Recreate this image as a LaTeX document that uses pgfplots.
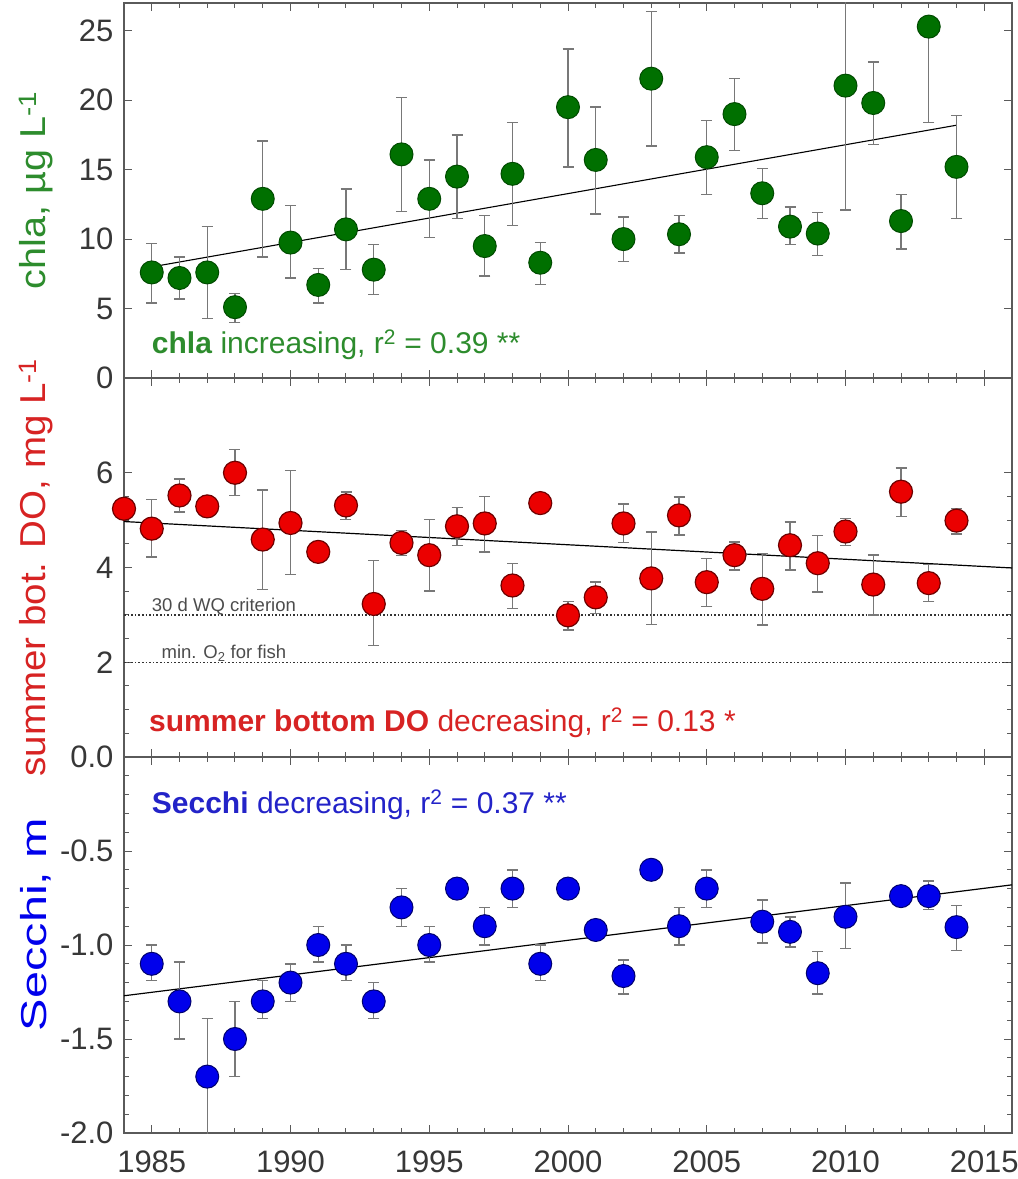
\documentclass[border=0pt]{standalone}
\usepackage{fontspec}
\setmainfont{Liberation Sans}
\usepackage{pgfplots}
\usepackage{pgfplotstable}
\pgfplotsset{compat=1.18}

\definecolor{cgreen}{RGB}{0,112,0}
\definecolor{cgreenEdge}{RGB}{0,75,0}
\definecolor{tgreen}{RGB}{45,140,45}
\definecolor{cred}{RGB}{235,0,0}
\definecolor{credEdge}{RGB}{110,0,0}
\definecolor{tred}{RGB}{215,35,35}
\definecolor{cblue}{RGB}{0,0,235}
\definecolor{cblueEdge}{RGB}{0,0,110}
\definecolor{tblue}{RGB}{35,35,200}
\definecolor{axgray}{RGB}{90,90,90}
\definecolor{errgray}{RGB}{120,120,120}
\definecolor{lblgray}{RGB}{55,55,55}

\pgfplotstableread{
x y hi lo
1985 7.6 9.7 5.4
1986 7.2 8.7 5.7
1987 7.6 10.9 4.3
1988 5.1 6.1 4.0
1989 12.9 17.05 8.7
1990 9.75 12.4 7.2
1991 6.7 7.9 5.4
1992 10.7 13.6 7.8
1993 7.8 9.6 6.0
1994 16.1 20.2 12.0
1995 12.9 15.7 10.1
1996 14.5 17.5 11.5
1997 9.5 11.7 7.35
1998 14.7 18.4 11.0
1999 8.3 9.75 6.75
2000 19.5 23.7 15.2
2001 15.7 19.5 11.8
2002 10.0 11.6 8.4
2003 21.55 26.4 16.7
2004 10.35 11.7 9.0
2005 15.9 18.55 13.2
2006 19.0 21.55 16.4
2007 13.3 15.1 11.5
2008 10.9 12.3 9.6
2009 10.4 11.9 8.8
2010 21.05 30 12.1
2011 19.8 22.75 16.8
2012 11.3 13.2 9.3
2013 25.3 25.3 18.4
2014 15.2 18.9 11.5
}\chla

\pgfplotstableread{
x y hi lo
1984 5.24 5.24 5.24
1985 4.82 5.43 4.22
1986 5.52 5.87 5.17
1987 5.29 5.29 5.29
1988 6.0 6.49 5.52
1989 4.59 5.64 3.53
1990 4.94 6.05 3.85
1991 4.33 4.33 4.33
1992 5.31 5.59 5.01
1993 3.23 4.15 2.35
1994 4.52 4.78 4.25
1995 4.26 5.01 3.5
1996 4.87 5.27 4.46
1997 4.93 5.5 4.33
1998 3.62 4.08 3.14
1999 5.36 5.36 5.36
2000 2.99 3.28 2.68
2001 3.37 3.69 3.03
2002 4.93 5.34 4.53
2003 3.77 4.75 2.8
2004 5.1 5.49 4.69
2005 3.69 4.19 3.18
2006 4.26 4.54 3.95
2007 3.55 4.3 2.79
2008 4.47 4.96 3.95
2009 4.09 4.67 3.48
2010 4.76 5.04 4.47
2011 3.64 4.26 3.0
2012 5.6 6.1 5.08
2013 3.67 4.06 3.28
2014 4.99 5.25 4.71
}\dox

\pgfplotstableread{
x y hi lo
1985 -1.1 -1.0 -1.19
1986 -1.3 -1.09 -1.5
1987 -1.7 -1.39 -2.05
1988 -1.5 -1.3 -1.7
1989 -1.3 -1.19 -1.39
1990 -1.2 -1.1 -1.3
1991 -1.0 -0.9 -1.09
1992 -1.1 -1.0 -1.19
1993 -1.3 -1.2 -1.39
1994 -0.8 -0.7 -0.9
1995 -1.0 -0.9 -1.09
1996 -0.7 -0.7 -0.7
1997 -0.9 -0.8 -1.0
1998 -0.7 -0.6 -0.8
1999 -1.1 -1.0 -1.19
2000 -0.7 -0.7 -0.7
2001 -0.92 -0.92 -0.92
2002 -1.165 -1.08 -1.26
2003 -0.6 -0.6 -0.6
2004 -0.9 -0.8 -1.0
2005 -0.7 -0.6 -0.8
2007 -0.876 -0.76 -0.99
2008 -0.93 -0.85 -1.01
2009 -1.15 -1.035 -1.26
2010 -0.85 -0.67 -1.02
2012 -0.74 -0.74 -0.74
2013 -0.74 -0.66 -0.81
2014 -0.905 -0.79 -1.03
}\secchi

\pgfplotsset{
  panel/.style={
    scale only axis, width=888pt, anchor=south west,
    xmin=1984, xmax=2016,
    xtick={1985,1990,...,2015}, minor x tick num=4,
    tick align=inside, tick pos=both,
    axis line style={axgray, line width=1.2pt},
    every tick/.style={axgray, line width=1pt},
    major tick length=8pt, minor tick length=5pt,
    tick label style={font=\fontsize{31}{33}\selectfont, text=lblgray},
    /pgf/number format/assume math mode=true,
    /pgf/number format/set thousands separator={},
    yticklabel style={xshift=-7pt},
    xticklabel style={yshift=-14pt},
    ylabel style={at={(axis description cs:-0.099,0.5)}, anchor=center,
                  font=\fontsize{36}{38}\selectfont},
    clip=true,
  },
  errs/.style={
    only marks, mark=*, mark size=11.5pt,
    error bars/y dir=both, error bars/y explicit,
    error bars/error bar style={errgray, line width=1.4pt},
    error bars/error mark options={rotate=90, mark size=5.5pt, errgray, line width=1.4pt},
  },
}

\begin{document}
\begin{tikzpicture}
\useasboundingbox (-124pt,-46pt) rectangle (894pt,1133pt);

% bottom: Secchi
\begin{axis}[panel, at={(0pt,0pt)}, height=376pt,
  ymin=-2, ymax=0,
  ytick={-2,-1.5,-1,-0.5,0}, yticklabels={-2.0,-1.5,-1.0,-0.5,{}},
  minor y tick num=4,
  ylabel style={at={(axis description cs:-0.099,0.555)}},
  ylabel={\color{cblue}\scalebox{1.35}[1]{Secchi, m}}]
\addplot[black, line width=1.2pt] coordinates {(1984,-1.27) (2016,-0.68)};
\addplot[errs, mark options={fill=cblue, draw=cblueEdge, line width=1pt}]
  table[x=x, y=y, y error plus expr=\thisrow{hi}-\thisrow{y}, y error minus expr=\thisrow{y}-\thisrow{lo}] {\secchi};
\node[anchor=west, inner sep=0pt, text=tblue, font=\fontsize{30}{32}\selectfont] at (axis cs:1985,-0.255)
  {\textbf{Secchi} decreasing, r\textsuperscript{2} = 0.37 **};
\end{axis}

% middle: DO
\begin{axis}[panel, at={(0pt,376pt)}, height=379pt,
  ymin=0, ymax=8,
  ytick={0,2,4,6}, yticklabels={0.0,2,4,6},
  minor y tick num=3, xticklabels={},
  ylabel={\color{tred}\scalebox{1.07}[1]{summer bot. DO, mg L\textsuperscript{-1}}}]
\addplot[black!80, line width=1.3pt, dash pattern=on 1.6pt off 2pt] coordinates {(1984,3) (2016,3)};
\addplot[black!80, line width=1.3pt, dash pattern=on 1.6pt off 2pt] coordinates {(1984,2) (2016,2)};
\addplot[black, line width=1.2pt] coordinates {(1984,4.97) (2016,3.99)};
\node[anchor=base west, inner sep=0pt, text=black!70, font=\fontsize{18.5}{20}\selectfont] at (axis cs:1985,3.08)
  {30 d WQ criterion};
\node[anchor=base west, inner sep=0pt, text=black!70, font=\fontsize{18.5}{20}\selectfont] at (axis cs:1985.35,2.08)
  {min. O\textsubscript{2} for fish};
\addplot[errs, mark options={fill=cred, draw=credEdge, line width=1.2pt}]
  table[x=x, y=y, y error plus expr=\thisrow{hi}-\thisrow{y}, y error minus expr=\thisrow{y}-\thisrow{lo}] {\dox};
\node[anchor=west, inner sep=0pt, text=tred, font=\fontsize{30}{32}\selectfont] at (axis cs:1984.9,0.72)
  {\textbf{summer bottom DO} decreasing, r\textsuperscript{2} = 0.13 *};
\end{axis}

% top: chla
\begin{axis}[panel, at={(0pt,755pt)}, height=375pt,
  ymin=0, ymax=27,
  ytick={0,5,...,25}, xticklabels={},
  ylabel={\color{tgreen}\scalebox{1.1}[1]{chla, µg L\textsuperscript{-1}}}]
\addplot[black, line width=1.1pt] coordinates {(1985,8.0) (2014,18.2)};
\addplot[errs, mark options={fill=cgreen, draw=cgreenEdge, line width=1pt}]
  table[x=x, y=y, y error plus expr=\thisrow{hi}-\thisrow{y}, y error minus expr=\thisrow{y}-\thisrow{lo}] {\chla};
\node[anchor=west, inner sep=0pt, text=tgreen, font=\fontsize{30}{32}\selectfont] at (axis cs:1985,2.4)
  {\textbf{chla} increasing, r\textsuperscript{2} = 0.39 **};
\end{axis}
\end{tikzpicture}
\end{document}
